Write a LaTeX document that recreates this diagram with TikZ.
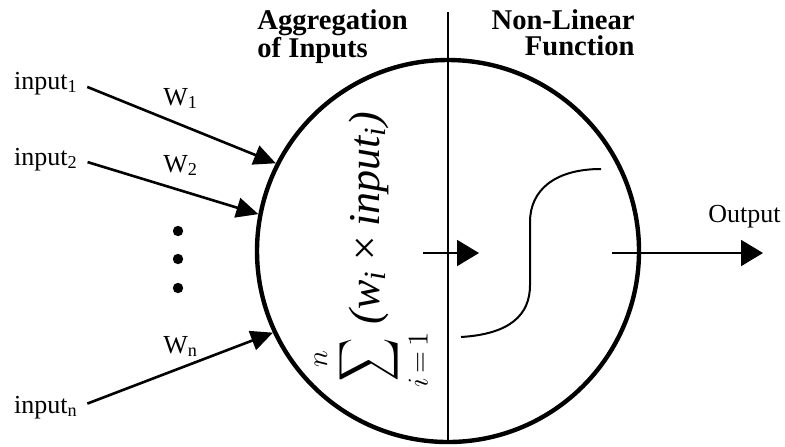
\documentclass[tikz,border=0pt]{standalone}
\usepackage{amsmath}
\usepackage{fontspec}
\usepackage{graphicx}
\setmainfont{Liberation Serif}
\usetikzlibrary{arrows.meta}
\begin{document}
\begin{tikzpicture}[x=0.5pt,y=-0.5pt,
  lbl/.style={font=\fontsize{13}{15}\selectfont, inner sep=0pt},
  head/.style={font=\fontsize{14.3}{13}\selectfont\bfseries, inner sep=0pt},
  inarrow/.style={line width=1.3pt, shorten <=5pt, -{Triangle[length=11pt,width=10pt]}},
  harrow/.style={line width=1pt, -{Triangle[length=11pt,width=13pt]}},
]
\useasboundingbox (0,0) rectangle (785,446);
% neuron body
\node[circle, draw, line width=2.2pt, minimum size=191pt, inner sep=0pt] (neuron) at (448,251) {};
\coordinate (vtop) at (448,12);
\draw[line width=0.7pt] (vtop) -- (neuron.south);
% headings
\node[head, anchor=north west, align=left] (agg) at (257,9) {Aggregation\\of Inputs};
\node[head, anchor=north east, align=right] (nonlin) at (635,9) {Non-Linear\\Function};
% inputs
\node[lbl, anchor=base east] (in1) at (78,89) {input\textsubscript{1}};
\node[lbl, anchor=base east] (in2) at (78,165) {input\textsubscript{2}};
\node[lbl, anchor=base east] (inn) at (78,413) {input\textsubscript{n}};
\draw[inarrow] (in1.east) -- (neuron.153);
\draw[inarrow] (in2.east) -- (neuron.169);
\draw[inarrow] (inn.east) -- (neuron.205);
% weights
\node[lbl, anchor=base west] (w1) at (163,105) {W\textsubscript{1}};
\node[lbl, anchor=base west] (w2) at (163,172) {W\textsubscript{2}};
\node[lbl, anchor=base west] (wn) at (163,353) {W\textsubscript{n}};
% dots
\fill (178,231) circle (2.6pt);
\fill (178,259) circle (2.6pt);
\fill (178,288) circle (2.6pt);
% sum formula
\node[rotate=90, anchor=base west, inner sep=0pt, font=\fontsize{22}{26}\selectfont] (sum) at (379,385)
  {$\mathop{\scalebox{0.72}[1]{$\displaystyle\sum$}}\limits_{\mkern-2mu i\,=\,1}^{n}$\hspace{4pt}\textit{(w\textsubscript{i}\,×\,input\textsubscript{i})}};
% middle arrow
\coordinate (ms) at (423,253);
\coordinate (me) at (479,253);
\draw[harrow] (ms) -- (me);
% non-linear function
\draw[line width=1pt] (461,337) .. controls (510,334) and (530,315) .. (530,285) -- (530,222) .. controls (530,190) and (555,169) .. (601,169);
% output
\coordinate (os) at (612,253);
\coordinate (oe) at (763,253);
\draw[harrow] (os) -- (oe);
\node[lbl, anchor=base west] (out) at (708,222) {Output};
\end{tikzpicture}
\end{document}
